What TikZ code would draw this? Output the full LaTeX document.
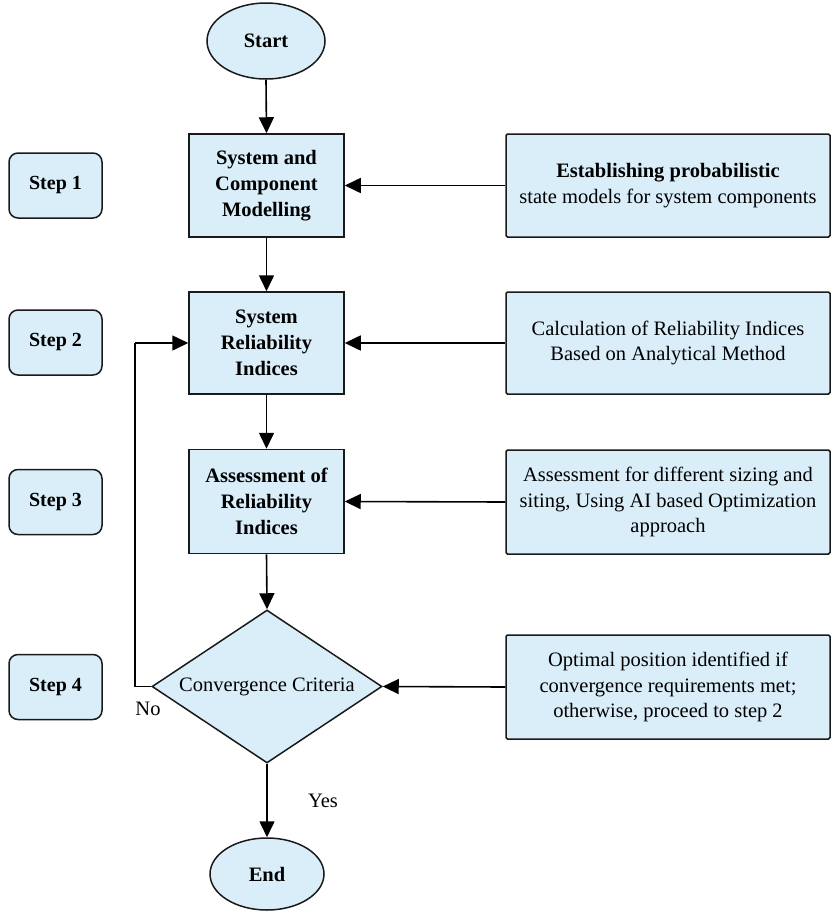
\documentclass[tikz,border=0pt]{standalone}
\usepackage{fontspec}
\setmainfont{Liberation Serif}
\usetikzlibrary{arrows.meta,shapes.geometric}
\definecolor{boxfill}{HTML}{DAEEFA}
\definecolor{boxline}{HTML}{1A1A1A}
\begin{document}
\begin{tikzpicture}[x=1pt,y=-1pt,
  every node/.style={font=\fontsize{20.5}{25.5}\selectfont, text=black},
  mainbox/.style={draw=boxline, line width=1.5pt, fill=boxfill, minimum width=155pt, align=center, inner sep=0pt, font=\fontsize{20.5}{26}\selectfont\bfseries},
  sidebox/.style={draw=boxline, line width=1.5pt, fill=boxfill, minimum width=324pt, align=center, inner sep=0pt, rounded corners=1.5pt},
  stepbox/.style={draw=boxline, line width=1.5pt, fill=boxfill, minimum width=93pt, minimum height=65pt, rounded corners=9pt, inner sep=0pt, font=\fontsize{20}{24}\selectfont\bfseries},
  term/.style={draw=boxline, line width=1.5pt, fill=boxfill, ellipse, inner sep=0pt, font=\fontsize{20.5}{24}\selectfont\bfseries},
  arr/.style={line width=1.6pt, draw=black, -{Triangle[length=16pt,width=15pt]}},
  ln/.style={line width=1.6pt, draw=black}
]
\useasboundingbox (0,0) rectangle (837,911);
\fill[white] (0,0) rectangle (837,911);

% terminals
\node[term, minimum width=118pt, minimum height=76pt] (start) at (266,41) {Start};
\node[term, minimum width=114pt, minimum height=72pt] (end) at (267,874) {End};

% main boxes
\node[mainbox, minimum height=103pt] (b1) at (266.5,185.5) {System and\\Component\\Modelling};
\node[mainbox, minimum height=102pt] (b2) at (266.5,343) {System\\Reliability\\Indices};
\node[mainbox, minimum height=104pt] (b3) at (266.5,501.5) {Assessment of\\Reliability\\Indices};
\node[draw=boxline, line width=1.5pt, fill=boxfill, diamond, minimum width=230pt, minimum height=153pt, inner sep=0pt] (dia) at (267,686.5) {};
\node (diatext) at (dia.center) {Convergence Criteria};

% side boxes
\node[sidebox, minimum height=103pt] (r1) at (668,185.5) {\textbf{Establishing probabilistic}\\state models for system components};
\node[sidebox, minimum height=102pt] (r2) at (668,343) {Calculation of Reliability Indices\\Based on Analytical Method};
\node[sidebox, minimum height=104pt] (r3) at (668,502) {Assessment for different sizing and\\siting, Using AI based Optimization\\approach};
\node[sidebox, minimum height=104pt] (r4) at (668,687) {Optimal position identified if\\convergence requirements met;\\otherwise, proceed to step 2};

% step boxes
\node[stepbox] (s1) at (55.5,185.5) {Step 1};
\node[stepbox] (s2) at (55.5,342.5) {Step 2};
\node[stepbox] (s3) at (55.5,502) {Step 3};
\node[stepbox] (s4) at (55.5,687) {Step 4};

% vertical flow
\draw[arr] (start.south) -- (b1.north);
\draw[arr] (b1.south) -- (b2.north);
\draw[arr] (b2.south) -- (b3.north);
\draw[arr] (b3.south) -- (dia.north);
\draw[arr] (dia.south) -- (end.north);

% side arrows
\draw[arr] (r1.west) -- (b1.east);
\draw[arr] (r2.west) -- (b2.east);
\draw[arr] (r3.west) -- (b3.east);
\draw[arr] (r4.west) -- (dia.east);

% feedback loop
\coordinate (lb) at (135,686.5);
\coordinate (lt) at (135,343);
\draw[ln] (dia.west) -- (lb) -- (lt);
\draw[arr] (lt) -- (b2.west);

% labels
\node (no) at (148,709) {No};
\node (yes) at (323,801) {Yes};
\end{tikzpicture}
\end{document}
